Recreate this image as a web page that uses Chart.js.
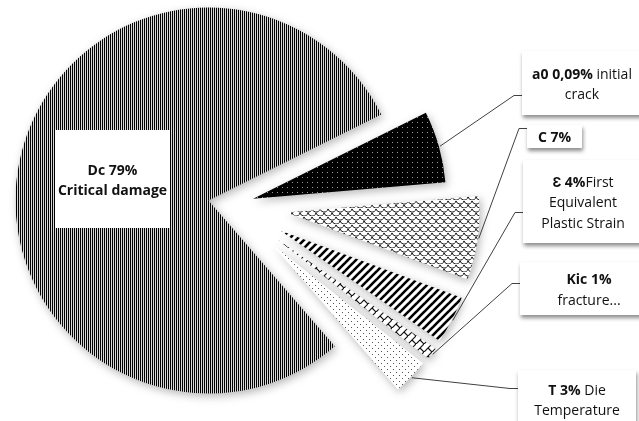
<!DOCTYPE html>
<html>
<head>
<meta charset="utf-8">
<script src="https://cdn.jsdelivr.net/npm/chart.js@4"></script>
<style>
  html, body { margin: 0; padding: 0; background: #fff; }
  canvas { display: block; }
</style>
</head>
<body>
<canvas id="pieChart" width="639" height="421"></canvas>
<script>
// Slices, clockwise starting from the black one
const categories = ['a0', 'C', 'Ɛ', 'Kic', 'T', 'Dc'];
const sliceValues = [6, 7, 4, 1, 3, 79];

// label text, one entry per slice: lines of [text, bold]
const labelTexts = [
  [[['a0 0,09%', true], [' initial', false]], [['crack', false]]],
  [[['C 7%', true]]],
  [[['Ɛ 4%', true], ['First', false]], [['Equivalent', false]], [['Plastic Strain', false]]],
  [[['Kic 1%', true]], [['fracture...', false]]],
  [[['T 3%', true], [' Die', false]], [['Temperature', false]]],
  [[['Dc 79%', true]], [['Critical damage', true]]]
];

// layout
const pieRadius = 193;
const explodeOffsets = [23, 56, 56, 57, 56, 23];
const labelBoxes = [
  { x: 522, y: 51, w: 120, h: 64, stub: 95, shadow: true },
  { x: 527, y: 125, w: 55, h: 23, stub: 128, shadow: true },
  { x: 523, y: 160, w: 120, h: 83, stub: 212, shadow: true },
  { x: 520, y: 262, w: 138, h: 53, stub: 283, shadow: true },
  { x: 518, y: 370, w: 118, h: 58, stub: 388, shadow: true },
  { x: 55, y: 130, w: 115, h: 98, stub: null, shadow: false }
];

const canvas = document.getElementById('pieChart');
const mainCtx = canvas.getContext('2d');

function makePattern(w, h, draw) {
  const c = document.createElement('canvas');
  c.width = w;
  c.height = h;
  const g = c.getContext('2d');
  draw(g);
  return mainCtx.createPattern(c, 'repeat');
}

// Fill patterns
const blackDots = makePattern(5, 5, g => {
  g.fillStyle = '#000'; g.fillRect(0, 0, 5, 5);
  g.fillStyle = '#9a9a9a'; g.fillRect(2, 2, 1, 1);
});
const scales = makePattern(8, 8, g => {
  g.fillStyle = '#fff'; g.fillRect(0, 0, 8, 8);
  g.strokeStyle = '#1a1a1a'; g.lineWidth = 1;
  [[4, 0], [0, 4], [8, 4], [4, 8]].forEach(([cx, cy]) => {
    g.beginPath(); g.arc(cx, cy, 4, 0.2, Math.PI - 0.2); g.stroke();
  });
});
const wideDiag = makePattern(8, 8, g => {
  g.fillStyle = '#fff'; g.fillRect(0, 0, 8, 8);
  g.strokeStyle = '#000'; g.lineWidth = 2.6;
  [[-1, 9, 9, -1], [-5, 5, 5, -5], [3, 13, 13, 3]].forEach(([a, b, c, d]) => {
    g.beginPath(); g.moveTo(a, b); g.lineTo(c, d); g.stroke();
  });
});
const brick = makePattern(8, 8, g => {
  g.fillStyle = '#fff'; g.fillRect(0, 0, 8, 8);
  g.strokeStyle = '#111'; g.lineWidth = 1.2;
  g.beginPath();
  g.moveTo(-1, 9); g.lineTo(9, -1);
  g.moveTo(4, 4); g.lineTo(8, 8);
  g.moveTo(-4, 4); g.lineTo(0, 8);
  g.stroke();
});
const smallDots = makePattern(6, 6, g => {
  g.fillStyle = '#fff'; g.fillRect(0, 0, 6, 6);
  g.fillStyle = '#555';
  g.fillRect(0, 0, 1, 1); g.fillRect(3, 3, 1, 1);
});
const vertLines = makePattern(2, 1, g => {
  g.fillStyle = '#d8d8d8'; g.fillRect(0, 0, 2, 1);
  g.fillStyle = '#000'; g.fillRect(0, 0, 1, 1);
});

// explode each slice outward along its bisector, same radius for all
const explode = {
  id: 'explode',
  afterDatasetUpdate(chart, args) {
    args.meta.data.forEach((el, i) => {
      const mid = (el.startAngle + el.endAngle) / 2;
      el.x += Math.cos(mid) * explodeOffsets[i];
      el.y += Math.sin(mid) * explodeOffsets[i];
      el.outerRadius = pieRadius;
    });
  }
};

// soft shadow under the slices
const sliceShadow = {
  id: 'sliceShadow',
  beforeDatasetsDraw(chart) {
    const ctx = chart.ctx;
    ctx.save();
    ctx.shadowColor = 'rgba(0,0,0,0.28)';
    ctx.shadowBlur = 9;
    ctx.shadowOffsetX = 2;
    ctx.shadowOffsetY = 3;
  },
  afterDatasetsDraw(chart) {
    chart.ctx.restore();
  }
};

const FONT_FAMILY = '"Open Sans", "Liberation Sans", sans-serif';
const FONT_SIZE = 14;
const LINE_H = 20.5;

function fontFor(bold) {
  return (bold ? 'bold ' : '') + FONT_SIZE + 'px ' + FONT_FAMILY;
}

// boxed labels with leader lines
const boxLabels = {
  id: 'boxLabels',
  afterDraw(chart) {
    const ctx = chart.ctx;
    const meta = chart.getDatasetMeta(0);
    labelBoxes.forEach((box, i) => {
      const el = meta.data[i];
      ctx.save();
      if (box.stub != null) {
        const mid = (el.startAngle + el.endAngle) / 2;
        const r = pieRadius + 1;
        const px = el.x + Math.cos(mid) * r;
        const py = el.y + Math.sin(mid) * r;
        ctx.strokeStyle = '#404040';
        ctx.lineWidth = 1;
        ctx.beginPath();
        ctx.moveTo(box.x, box.stub + 0.5);
        ctx.lineTo(box.x - 8, box.stub + 0.5);
        ctx.lineTo(px, py);
        ctx.stroke();
      }
      if (box.shadow) {
        ctx.shadowColor = 'rgba(0,0,0,0.45)';
        ctx.shadowBlur = 4;
        ctx.shadowOffsetX = 1;
        ctx.shadowOffsetY = 3;
      }
      ctx.fillStyle = '#fff';
      ctx.fillRect(box.x, box.y, box.w, box.h);
      ctx.restore();

      const lines = labelTexts[i];
      const cx = box.x + box.w / 2;
      const top = box.y + box.h / 2 - (lines.length * LINE_H) / 2 + LINE_H / 2 + 2;
      ctx.save();
      ctx.fillStyle = '#111';
      ctx.textBaseline = 'middle';
      ctx.textAlign = 'left';
      lines.forEach((parts, li) => {
        let total = 0;
        parts.forEach(([t, b]) => { ctx.font = fontFor(b); total += ctx.measureText(t).width; });
        let x = cx - total / 2;
        parts.forEach(([t, b]) => {
          ctx.font = fontFor(b);
          ctx.fillText(t, x, top + li * LINE_H);
          x += ctx.measureText(t).width;
        });
      });
      ctx.restore();
    });
  }
};

new Chart(canvas, {
  type: 'pie',
  data: {
    labels: categories,
    datasets: [{
      data: sliceValues,
      backgroundColor: [blackDots, scales, wideDiag, brick, smallDots, vertLines],
      borderWidth: 0,
      radius: pieRadius
    }]
  },
  options: {
    responsive: false,
    animation: false,
    events: [],
    rotation: 63.5,
    layout: { padding: { left: 0, right: 177, top: 0, bottom: 11 } },
    plugins: {
      legend: { display: false },
      tooltip: { enabled: false }
    }
  },
  plugins: [explode, sliceShadow, boxLabels]
});
</script>
</body>
</html>
